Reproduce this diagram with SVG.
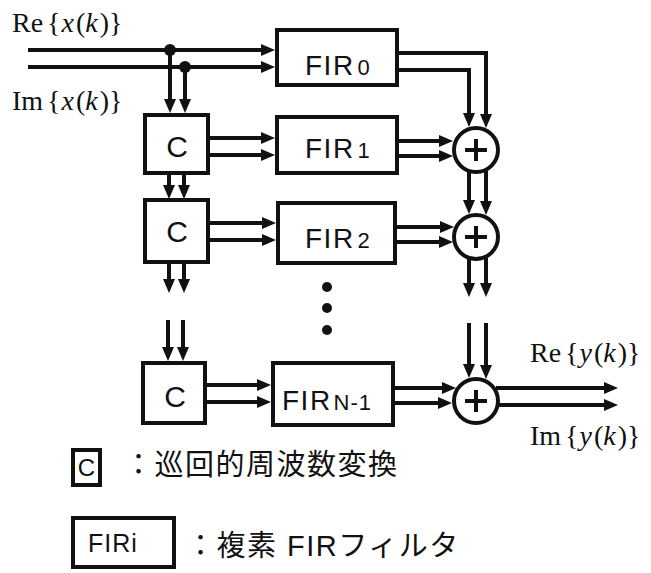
<svg xmlns="http://www.w3.org/2000/svg" width="651" height="573" viewBox="0 0 651 573">
<defs>
<marker id="ah" viewBox="0 0 14 12" refX="1" refY="6" markerWidth="14" markerHeight="12" markerUnits="userSpaceOnUse" orient="auto">
<path d="M0,0 L14,6 L0,12 z" fill="#111"/>
</marker>
</defs>
<style>
.box{fill:#fff;stroke:#111;stroke-width:4}
.lbl{font-family:'Liberation Sans',Arial,sans-serif;fill:#111}
.math{font-family:'Liberation Serif','Times New Roman',serif;font-size:28px;fill:#111}
.it{font-style:italic}
.w{fill:none;stroke:#111;stroke-width:4}
.a{fill:none;stroke:#111;stroke-width:4;marker-end:url(#ah)}
.cjk{font-family:'Liberation Sans','Noto Sans CJK JP',sans-serif;font-size:29px;fill:#111;letter-spacing:1.5px}
</style>
<rect width="651" height="573" fill="#fff"/>

<g id="labels-io">
<text class="math" x="12" y="32">Re<tspan dx="4">{</tspan><tspan class="it" dx="1">x</tspan><tspan dx="2">(</tspan><tspan class="it">k</tspan><tspan dx="2">)}</tspan></text>
<text class="math" x="12" y="110">Im<tspan dx="4">{</tspan><tspan class="it" dx="1">x</tspan><tspan dx="2">(</tspan><tspan class="it">k</tspan><tspan dx="2">)}</tspan></text>
<text class="math" x="530" y="362">Re<tspan dx="4">{</tspan><tspan class="it" dx="1">y</tspan><tspan dx="2">(</tspan><tspan class="it">k</tspan><tspan dx="2">)}</tspan></text>
<text class="math" x="530" y="445">Im<tspan dx="4">{</tspan><tspan class="it" dx="1">y</tspan><tspan dx="2">(</tspan><tspan class="it">k</tspan><tspan dx="2">)}</tspan></text>
</g>

<g id="connectors">
<path class="a" d="M28,50 H262"/>
<path class="a" d="M28,67 H262"/>
<path class="a" d="M170,50 V100"/>
<path class="a" d="M185,67 V100"/>
<circle cx="170" cy="50" r="6" fill="#111"/>
<circle cx="185" cy="67" r="6" fill="#111"/>
<path class="a" d="M208,138 H262"/>
<path class="a" d="M208,155 H262"/>
<path class="a" d="M169,173 V186"/>
<path class="a" d="M184,173 V186"/>
<path class="a" d="M208,223 H263"/>
<path class="a" d="M208,240 H263"/>
<path class="a" d="M169,262 V280"/>
<path class="a" d="M184,262 V280"/>
<path class="a" d="M168,320 V348"/>
<path class="a" d="M183,320 V348"/>
<path class="a" d="M205,385 H258"/>
<path class="a" d="M205,402 H258"/>
<path class="a" d="M397,53 H486 V115"/>
<path class="a" d="M397,70 H469 V114"/>
<path class="a" d="M397,141 H440"/>
<path class="a" d="M397,156 H440"/>
<path class="a" d="M469,172 V201"/>
<path class="a" d="M486,171 V202"/>
<path class="a" d="M395,227 H441"/>
<path class="a" d="M395,242 H440"/>
<path class="a" d="M469,259 V284"/>
<path class="a" d="M486,258 V284"/>
<path class="a" d="M469,323 V365"/>
<path class="a" d="M486,323 V366"/>
<path class="a" d="M393,388 H443"/>
<path class="a" d="M393,403 H439"/>
<path class="a" d="M496,388 H605"/>
<path class="a" d="M499,405 H605"/>
</g>

<g id="C1"><rect class="box" x="145" y="115" width="63" height="58"/><text class="lbl" x="177" y="157" font-size="30" text-anchor="middle">C</text></g>
<g id="C2"><rect class="box" x="145" y="200" width="63" height="62"/><text class="lbl" x="177" y="242" font-size="30" text-anchor="middle">C</text></g>
<g id="C3"><rect class="box" x="143" y="363" width="62" height="60"/><text class="lbl" x="175" y="407" font-size="30" text-anchor="middle">C</text></g>

<g id="FIR0"><rect class="box" x="277" y="30" width="120" height="55"/><text class="lbl" x="305" y="75" font-size="28" letter-spacing="1.5">FIR<tspan font-size="22" dx="3" letter-spacing="0">0</tspan></text></g>
<g id="FIR1"><rect class="box" x="277" y="117" width="120" height="56"/><text class="lbl" x="305" y="158" font-size="28" letter-spacing="1.5">FIR<tspan font-size="22" dx="3" letter-spacing="0">1</tspan></text></g>
<g id="FIR2"><rect class="box" x="278" y="203" width="117" height="60"/><text class="lbl" x="305" y="248" font-size="28" letter-spacing="1.5">FIR<tspan font-size="22" dx="3" letter-spacing="0">2</tspan></text></g>
<g id="FIRN1"><rect class="box" x="273" y="363" width="120" height="62"/><text class="lbl" x="282" y="410" font-size="28" letter-spacing="1.5">FIR<tspan font-size="22" dx="2" letter-spacing="1">N-1</tspan></text></g>

<g id="dots">
<circle cx="327" cy="287" r="5" fill="#111"/>
<circle cx="327" cy="308" r="5" fill="#111"/>
<circle cx="327" cy="330" r="5" fill="#111"/>
</g>

<g id="add1"><circle cx="476" cy="150" r="22" fill="#fff" stroke="#111" stroke-width="4"/><path class="w" d="M465,150 H487 M476,139 V161"/></g>
<g id="add2"><circle cx="476" cy="237" r="22" fill="#fff" stroke="#111" stroke-width="4"/><path class="w" d="M465,237 H487 M476,226 V248"/></g>
<g id="add3"><circle cx="476" cy="401" r="22" fill="#fff" stroke="#111" stroke-width="4"/><path class="w" d="M465,401 H487 M476,390 V412"/></g>

<g id="legend-C">
<rect class="box" x="73" y="450" width="27" height="35" stroke-width="3.5"/>
<text class="lbl" x="86.5" y="476" font-size="24" text-anchor="middle">C</text>
<text class="cjk" x="124" y="475">：巡回的周波数変換</text>
</g>
<g id="legend-FIR">
<rect class="box" x="73" y="518" width="101" height="49" stroke-width="3.5"/>
<text class="lbl" x="88" y="552" font-size="25" letter-spacing="1">FIRi</text>
<text class="cjk" x="186" y="556">：複素 FIRフィルタ</text>
</g>
</svg>
